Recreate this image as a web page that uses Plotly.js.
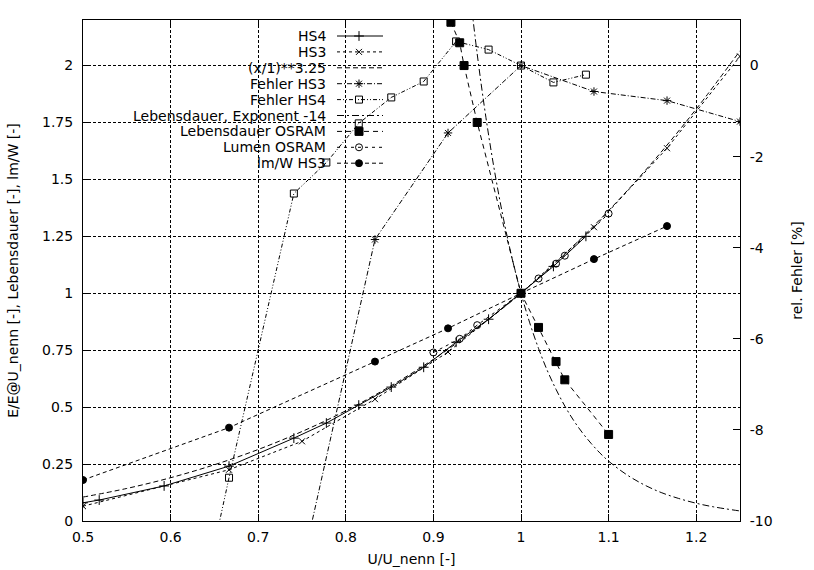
<!DOCTYPE html>
<html><head><meta charset="utf-8">
<script src="https://cdn.plot.ly/plotly-3.0.1.min.js"></script>
<style>html,body{margin:0;padding:0;background:#fff}</style>
</head><body><div id="chart" style="width:814px;height:570px"></div>
<script>
// ---------- data ----------
const hs4X = [0.5, 0.5185, 0.5926, 0.6667, 0.7407, 0.7778, 0.8148, 0.8519, 0.8889, 0.9259, 0.9630, 1.0, 1.0370, 1.0741];
const hs4Y = [0.08, 0.092, 0.154, 0.241, 0.364, 0.43, 0.509, 0.588, 0.675, 0.785, 0.886, 1.0, 1.118, 1.25];

const hs3X = [0.5, 0.6667, 0.75, 0.8333, 0.9167, 1.0, 1.0833, 1.1667, 1.25];
const hs3Y = [0.065, 0.225, 0.35, 0.535, 0.742, 1.0, 1.29, 1.637, 2.04];

const fitX = [0.5, 0.55, 0.6, 0.65, 0.7, 0.75, 0.8, 0.85, 0.9, 0.95, 1.0, 1.05, 1.1, 1.15, 1.2, 1.25];
const fitY = [0.105, 0.143, 0.190, 0.247, 0.314, 0.393, 0.484, 0.590, 0.710, 0.847, 1.0, 1.172, 1.363, 1.575, 1.809, 2.065];

const errHs3X = [0.5, 0.6667, 0.75, 0.8333, 0.9167, 1.0, 1.0833, 1.1667, 1.25];
const errHs3Y = [-40, -16, -11, -3.82, -1.48, 0, -0.57, -0.77, -1.23];

const errHs4X = [0.5185, 0.5926, 0.6667, 0.7407, 0.7778, 0.8148, 0.8519, 0.8889, 0.9259, 0.9630, 1.0, 1.0370, 1.0741];
const errHs4Y = [-22, -15.6, -9.05, -2.81, -2.13, -1.27, -0.70, -0.35, 0.53, 0.35, 0, -0.37, -0.2];

const lifeExpX = [0.94, 0.95, 0.96, 0.97, 0.98, 0.99, 1.0, 1.01, 1.02, 1.03, 1.04, 1.05, 1.06, 1.07, 1.08, 1.09, 1.10, 1.12, 1.14, 1.16, 1.18, 1.20, 1.22, 1.25];
const lifeExpY = [2.378, 2.051, 1.771, 1.532, 1.327, 1.151, 1.0, 0.870, 0.758, 0.661, 0.578, 0.505, 0.442, 0.388, 0.341, 0.299, 0.263, 0.205, 0.160, 0.125, 0.099, 0.078, 0.062, 0.044];

const lifeOsramX = [0.92, 0.93, 0.935, 0.95, 1.0, 1.02, 1.04, 1.05, 1.1];
const lifeOsramY = [2.19, 2.1, 2.0, 1.75, 1.0, 0.85, 0.7, 0.62, 0.38];

const lumenX = [0.9, 0.93, 0.95, 1.0, 1.02, 1.04, 1.05, 1.1];
const lumenY = [0.74, 0.80, 0.86, 1.0, 1.065, 1.13, 1.165, 1.35];

const lmwX = [0.5, 0.6667, 0.8333, 0.9167, 1.0, 1.0833, 1.1667];
const lmwY = [0.18, 0.41, 0.70, 0.846, 1.0, 1.15, 1.295];

const xTickVals = [0.5, 0.6, 0.7, 0.8, 0.9, 1.0, 1.1, 1.2];
const xTickText = ['0.5', '0.6', '0.7', '0.8', '0.9', '1', '1.1', '1.2'];
const yTickVals = [0, 0.25, 0.5, 0.75, 1, 1.25, 1.5, 1.75, 2];
const yTickText = ['0', '0.25', '0.5', '0.75', '1', '1.25', '1.5', '1.75', '2'];
const y2TickVals = [-10, -8, -6, -4, -2, 0];
const y2TickText = ['-10', '-8', '-6', '-4', '-2', '0'];

const seriesNames = ['HS4', 'HS3', '(x/1)**3.25', 'Fehler HS3', 'Fehler HS4',
  'Lebensdauer, Exponent -14', 'Lebensdauer OSRAM', 'Lumen OSRAM', 'lm/W HS3'];

// ---------- styling ----------
const FONT = 'DejaVu Sans, Liberation Sans, sans-serif';
const FS = 14;
const W = 814, H = 570;
const PL = 83, PR = 740, PT = 20, PB = 521;

const seriesData = [
  [hs4X, hs4Y, 'y'], [hs3X, hs3Y, 'y'], [fitX, fitY, 'y'],
  [errHs3X, errHs3Y, 'y2'], [errHs4X, errHs4Y, 'y2'],
  [lifeExpX, lifeExpY, 'y'], [lifeOsramX, lifeOsramY, 'y'],
  [lumenX, lumenY, 'y'], [lmwX, lmwY, 'y']
];
const seriesStyle = [
  {dash: 'solid', symbol: 'cross-thin-open', size: 7},
  {dash: '3px,3px', symbol: 'x-thin-open', size: 6},
  {dash: '5px,3px', symbol: null, shape: 'spline'},
  {dash: '5px,2px,1px,2px', symbol: 'asterisk-open', size: 7},
  {dash: '4px,2px,1px,2px,1px,2px', symbol: 'square-open', size: 7},
  {dash: '7px,3px,2px,3px', symbol: null, shape: 'spline'},
  {dash: '5px,4px', symbol: 'square', size: 8},
  {dash: '3px,4px', symbol: 'circle-open', size: 7},
  {dash: '4px,3px', symbol: 'circle', size: 7}
];

const traces = [];
seriesData.forEach((d, i) => {
  const st = seriesStyle[i];
  const t = {
    type: 'scatter', x: d[0], y: d[1], yaxis: d[2], name: seriesNames[i],
    mode: st.symbol ? 'lines+markers' : 'lines',
    line: {color: '#000', width: 1, dash: st.dash, shape: st.shape || 'linear'},
    showlegend: false, hoverinfo: 'x+y+name'
  };
  if (st.symbol) t.marker = {symbol: st.symbol, size: st.size, color: '#000', line: {color: '#000', width: 1}};
  traces.push(t);
});

// custom gnuplot-style legend: text right-aligned, sample on the right
const LEG_TEXT_X = 328, LEG_S0 = 337, LEG_S1 = 383, LEG_M = 359, LEG_Y0 = 36, LEG_DY = 15.9;
const annotations = [];
seriesNames.forEach((n, i) => {
  const st = seriesStyle[i];
  const ry = LEG_Y0 + LEG_DY * i;
  traces.push({type: 'scatter', xaxis: 'x3', yaxis: 'y3', x: [LEG_S0, LEG_S1], y: [ry, ry], mode: 'lines',
    line: {color: '#000', width: 1, dash: st.dash}, showlegend: false, hoverinfo: 'skip'});
  if (st.symbol) traces.push({type: 'scatter', xaxis: 'x3', yaxis: 'y3', x: [LEG_M], y: [ry], mode: 'markers',
    marker: {symbol: st.symbol, size: st.size, color: '#000', line: {color: '#000', width: 1}}, showlegend: false, hoverinfo: 'skip'});
  annotations.push({xref: 'paper', yref: 'paper', x: (LEG_TEXT_X - PL) / (PR - PL), y: (PB - ry) / (PB - PT),
    xanchor: 'right', yanchor: 'middle', text: n, showarrow: false, font: {family: FONT, size: FS, color: '#000'}});
});

const gridDash = '3px,2px';
const layout = {
  width: W, height: H,
  margin: {l: PL, r: W - PR, t: PT, b: H - PB, autoexpand: false},
  paper_bgcolor: '#fff', plot_bgcolor: '#fff',
  font: {family: FONT, size: FS, color: '#000'},
  showlegend: false,
  xaxis: {range: [0.5, 1.25], tickvals: xTickVals, ticktext: xTickText, ticks: 'inside', ticklen: 7,
    tickcolor: '#000', showline: true, linecolor: '#000', linewidth: 1, mirror: 'ticks',
    showgrid: true, gridcolor: '#000', griddash: gridDash, gridwidth: 1, zeroline: false,
    ticklabelstandoff: 3,
    title: {text: 'U/U_nenn [-]', standoff: 10, font: {family: FONT, size: FS}}},
  yaxis: {range: [0, 2.2], tickvals: yTickVals, ticktext: yTickText, ticks: 'inside', ticklen: 7,
    tickcolor: '#000', showline: true, linecolor: '#000', linewidth: 1,
    showgrid: true, gridcolor: '#000', griddash: gridDash, gridwidth: 1, zeroline: false,
    ticklabelstandoff: 6,
    title: {text: 'E/E@U_nenn [-], Lebensdauer [-], lm/W [-]', standoff: 20, font: {family: FONT, size: FS}}},
  yaxis2: {range: [-10, 1], overlaying: 'y', side: 'right', tickvals: y2TickVals, ticktext: y2TickText,
    ticks: 'inside', ticklen: 7, tickcolor: '#000', showline: true, linecolor: '#000', linewidth: 1,
    showgrid: false, zeroline: false, ticklabelstandoff: 6,
    title: {text: 'rel. Fehler [%]', standoff: 20, font: {family: FONT, size: FS}}},
  xaxis3: {overlaying: 'x', range: [PL, PR], visible: false, fixedrange: true},
  yaxis3: {overlaying: 'y', range: [PB, PT], visible: false, fixedrange: true},
  annotations: annotations
};

Plotly.newPlot('chart', traces, layout, {displayModeBar: false, staticPlot: true});
</script></body></html>
